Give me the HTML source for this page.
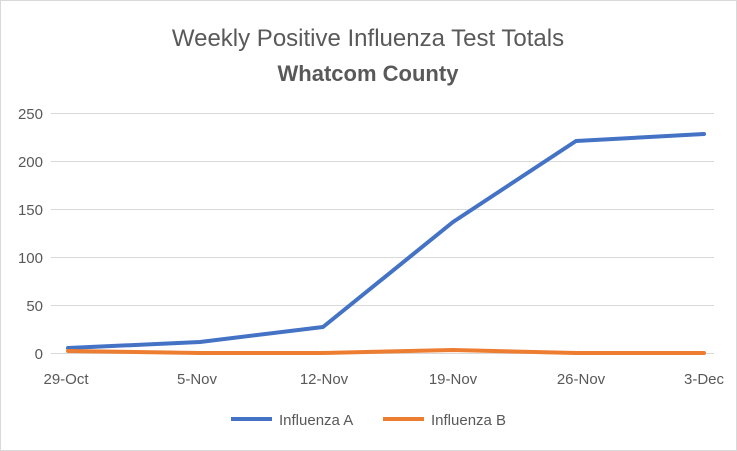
<!DOCTYPE html>
<html><head><style>
body{margin:0;background:#fff;}
svg{display:block;font-family:"Liberation Sans",sans-serif;}
</style></head><body>
<svg width="737" height="451" viewBox="0 0 737 451">
<rect x="0.5" y="0.5" width="736" height="450" fill="#fff" stroke="#d9d9d9"/>
<text x="368" y="46" text-anchor="middle" font-size="24" fill="#595959">Weekly Positive Influenza Test Totals</text>
<text x="368" y="81" text-anchor="middle" font-size="22" font-weight="bold" fill="#595959">Whatcom County</text>
<g stroke="#d9d9d9" stroke-width="1">
<line x1="51" y1="113.5" x2="714" y2="113.5"/>
<line x1="51" y1="161.5" x2="714" y2="161.5"/>
<line x1="51" y1="209.5" x2="714" y2="209.5"/>
<line x1="51" y1="257.5" x2="714" y2="257.5"/>
<line x1="51" y1="305.5" x2="714" y2="305.5"/>
<line x1="51" y1="353.5" x2="714" y2="353.5"/>
</g>
<g font-size="15" fill="#595959" text-anchor="end">
<text x="43" y="119">250</text><text x="43" y="167">200</text><text x="43" y="215">150</text>
<text x="43" y="263">100</text><text x="43" y="311">50</text><text x="43" y="359">0</text>
</g>
<g font-size="15" fill="#595959" text-anchor="middle">
<text x="66" y="384">29-Oct</text><text x="197" y="384">5-Nov</text><text x="324" y="384">12-Nov</text>
<text x="453" y="384">19-Nov</text><text x="581" y="384">26-Nov</text><text x="704" y="384">3-Dec</text>
</g>
<polyline fill="none" stroke="#4472c4" stroke-width="4" stroke-linejoin="round" stroke-linecap="round"
points="68,348 200,342 323,327 453,222 576,141 704,134"/>
<polyline fill="none" stroke="#ed7d31" stroke-width="4" stroke-linejoin="round" stroke-linecap="round"
points="68,351 200,353 323,353 453,350 576,353 704,353"/>
<line x1="231" y1="419" x2="272" y2="419" stroke="#4472c4" stroke-width="4"/>
<text x="279" y="425" font-size="15" fill="#595959">Influenza A</text>
<line x1="383" y1="419" x2="424" y2="419" stroke="#ed7d31" stroke-width="4"/>
<text x="431" y="425" font-size="15" fill="#595959">Influenza B</text>
</svg>
</body></html>
